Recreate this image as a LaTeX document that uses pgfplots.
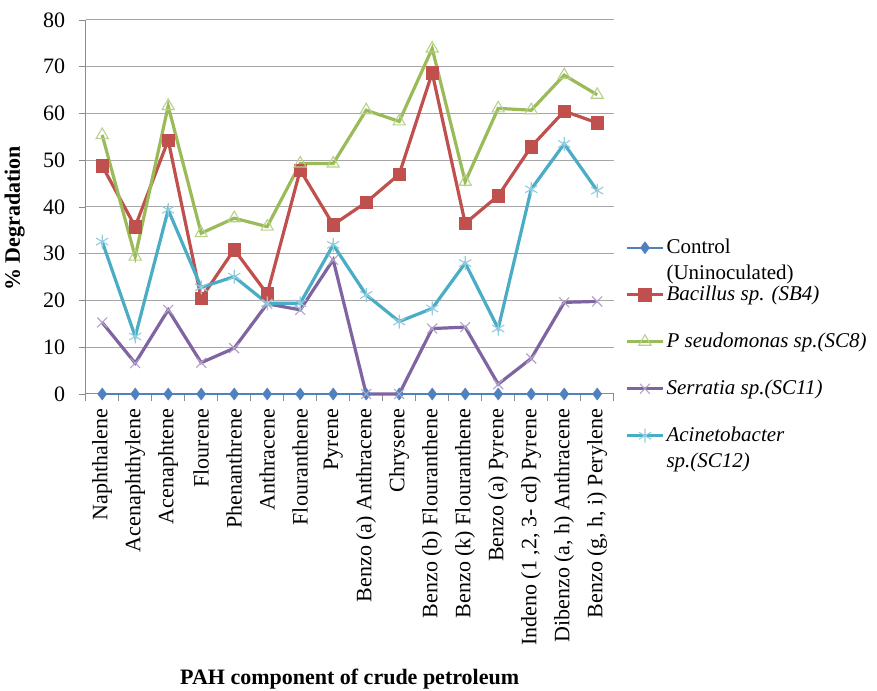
\documentclass[border=0pt]{standalone}
\usepackage{fontspec}
\setmainfont{Liberation Serif}
\usepackage{pgfplots}
\pgfplotsset{compat=1.18}

\definecolor{ctrl}{HTML}{4F81BD}
\definecolor{bac}{HTML}{C0504D}
\definecolor{pse}{HTML}{9BBB59}
\definecolor{psemark}{HTML}{B5D28A}
\definecolor{ser}{HTML}{8064A2}
\definecolor{sermark}{HTML}{B3A2C7}
\definecolor{aci}{HTML}{4BACC6}
\definecolor{acimark}{HTML}{93CDDD}

\newcommand{\chartfont}{\fontsize{22}{26}\selectfont}
\newcommand{\legfont}{\fontsize{21}{26}\selectfont}

\begin{document}
\begin{tikzpicture}
\path[use as bounding box] (0,0) rectangle (877pt,690pt);
\begin{axis}[
    at={(85.7pt,296pt)}, anchor=south west,
    scale only axis,
    width=528pt, height=374pt,
    xmin=0.5, xmax=16.5,
    ymin=0, ymax=80,
    ytick={0,10,...,80},
    xtick={1,...,16},
    xticklabels={Naphthalene,Acenaphthylene,Acenaphtene,Flourene,Phenanthrene,Anthracene,Flouranthene,Pyrene,Benzo (a) Anthracene,Chrysene,Benzo (b) Flouranthene,Benzo (k) Flouranthene,Benzo (a) Pyrene,{Indeno (1 ,2, 3- cd) Pyrene},{Dibenzo (a, h) Anthracene},{Benzo (g, h, i) Perylene}},
    minor xtick={0.5,1.5,...,16.5},
    major x tick style={draw=none},
    tick align=outside,
    major tick length=7pt,
    minor tick length=7pt,
    tick style={color=black!45, line width=0.8pt},
    axis x line*=bottom, axis y line*=left,
    axis line style={color=black!45, line width=1pt},
    ymajorgrids,
    grid style={color=black!35, line width=1pt},
    /pgf/number format/assume math mode=true,
    tick label style={font=\chartfont},
    yticklabel style={xshift=-10pt},
    xticklabel style={rotate=90, anchor=east, inner sep=0pt},
    xticklabel shift=8pt,
    ylabel={\bfseries\% Degradation},
    ylabel style={font=\chartfont, at={(axis description cs:-0.115,0.47)}, anchor=south, inner sep=0pt},
    xlabel={\bfseries PAH component of crude petroleum},
    xlabel style={font=\chartfont, at={(axis description cs:0.5,-0.735)}, anchor=north, inner sep=0pt},
    legend cell align=left,
    legend style={draw=none, fill=none, font=\legfont,
        at={(axis description cs:1.016,0.425)}, anchor=north west,
        nodes={inner sep=0pt, text height=16pt, text depth=5pt},
        row sep=26pt, column sep=2pt},
    legend image code/.code={\draw[mark repeat=2,mark phase=2] plot coordinates {(0pt,0pt) (18pt,0pt) (36pt,0pt)};},
    clip=false,
]
\addplot[color=ctrl, line width=2.4pt, mark=diamond*, mark size=6pt, mark options={fill=ctrl, line width=0.5pt}]
    coordinates {(1,0) (2,0) (3,0) (4,0) (5,0) (6,0) (7,0) (8,0) (9,0) (10,0) (11,0) (12,0) (13,0) (14,0) (15,0) (16,0)};
\addlegendentry{\smash{\begin{tabular}[t]{@{}l@{}}Control\\(Uninoculated)\end{tabular}}}
\addplot[color=bac, line width=3.2pt, mark=square*, mark size=6.3pt, mark options={fill=bac, line width=0.5pt}]
    coordinates {(1,48.8) (2,35.8) (3,54.3) (4,20.5) (5,30.9) (6,21.4) (7,47.9) (8,36.2) (9,41.0) (10,47.0) (11,68.7) (12,36.5) (13,42.4) (14,52.9) (15,60.5) (16,58.0)};
\addlegendentry{\itshape Bacillus sp. (SB4)}
\addplot[color=pse, line width=3.2pt, mark=triangle, mark size=7pt, mark options={draw=psemark, line width=1.1pt}]
    coordinates {(1,55.4) (2,29.4) (3,61.6) (4,34.4) (5,37.6) (6,35.8) (7,49.3) (8,49.3) (9,60.7) (10,58.3) (11,73.9) (12,45.4) (13,61.1) (14,60.7) (15,68.2) (16,64.0)};
\addlegendentry{\itshape P seudomonas sp.(SC8)}
\addplot[color=ser, line width=3.2pt, mark=x, mark size=7pt, mark options={draw=sermark, line width=1.1pt}]
    coordinates {(1,15.3) (2,6.6) (3,18.0) (4,6.7) (5,9.8) (6,19.3) (7,18.0) (8,28.7) (9,0) (10,0) (11,14.0) (12,14.3) (13,2.1) (14,7.6) (15,19.6) (16,19.8)};
\addlegendentry{\itshape Serratia sp.(SC11)}
\addplot[color=aci, line width=3.2pt, mark=asterisk, mark size=7pt, mark options={draw=acimark, line width=1.1pt}]
    coordinates {(1,32.6) (2,12.3) (3,39.4) (4,22.8) (5,25.1) (6,19.4) (7,19.4) (8,31.9) (9,21.2) (10,15.5) (11,18.3) (12,28.0) (13,14.0) (14,43.8) (15,53.5) (16,43.5)};
\addlegendentry{\smash{\begin{tabular}[t]{@{}l@{}}\itshape Acinetobacter\\\itshape sp.(SC12)\end{tabular}}}
\end{axis}
\end{tikzpicture}
\end{document}
